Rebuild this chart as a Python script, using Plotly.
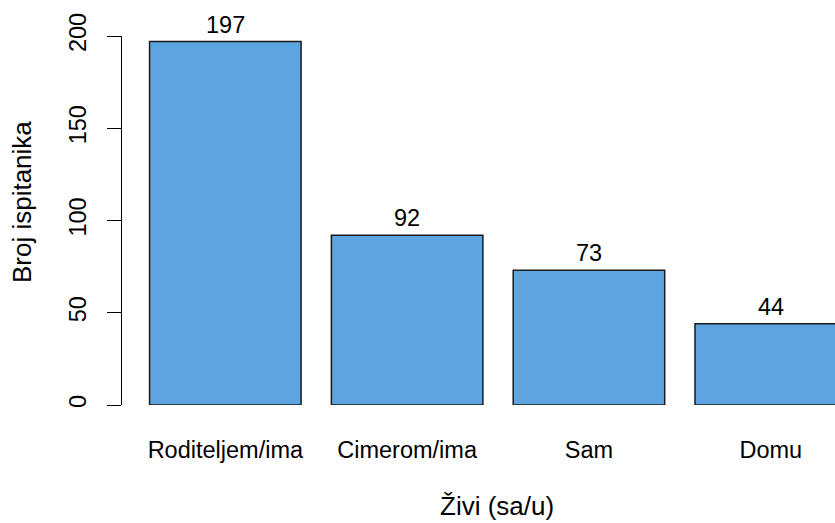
import plotly.graph_objects as go

categories = ["Roditeljem/ima", "Cimerom/ima", "Sam", "Domu"]
counts = [197, 92, 73, 44]
y_ticks = [0, 50, 100, 150, 200]

bar_width = 1.0
space = 0.2
centers = [space + bar_width / 2 + i * (bar_width + space) for i in range(len(categories))]

FONT = "Liberation Sans, Arial, sans-serif"
FS = 23.5
FS_TITLE = 26

fig = go.Figure()
fig.add_trace(go.Bar(
    x=centers, y=counts, width=bar_width,
    marker=dict(color="#5DA5E0", line=dict(color="#1a1a1a", width=1.5)),
    hoverinfo="skip",
))

for xc, v in zip(centers, counts):
    fig.add_annotation(x=xc, y=v, xref="x", yref="y", text=str(v),
                       showarrow=False, yanchor="bottom", yshift=2,
                       font=dict(family=FONT, size=FS, color="black"))

# axis titles (centred on the original, wider plotting region)
fig.add_annotation(text="Živi (sa/u)", xref="paper", yref="paper",
                   x=0.5266, y=0, xanchor="center", yanchor="middle",
                   yshift=-101, showarrow=False,
                   font=dict(family=FONT, size=FS_TITLE, color="black"))
fig.add_annotation(text="Broj ispitanika", xref="paper", yref="paper",
                   x=0, y=0.550, xanchor="center", yanchor="middle",
                   xshift=-100, textangle=-90, showarrow=False,
                   font=dict(family=FONT, size=FS_TITLE, color="black"))

fig.update_layout(
    width=835, height=523,
    margin=dict(l=122, r=0, t=36, b=118, pad=0),
    plot_bgcolor="white", paper_bgcolor="white",
    showlegend=False,
    font=dict(family=FONT, size=FS, color="black"),
    xaxis=dict(
        range=[0.018, 4.724], tickvals=centers, ticktext=categories,
        showline=False, showgrid=False, zeroline=False, ticks="",
        ticklabelstandoff=28, tickfont=dict(size=FS),
    ),
    yaxis=dict(
        range=[0, 200], tickvals=y_ticks, showline=True, linecolor="black",
        linewidth=1.3, ticks="outside", ticklen=14, tickwidth=1.3,
        tickcolor="black", tickangle=-90, showgrid=False, zeroline=False,
        ticklabelstandoff=11, tickfont=dict(size=FS),
    ),
)

fig.write_html(
    "out.html",
    config={"displayModeBar": False},
    post_script="document.body.style.margin='0px';document.body.style.overflow='hidden';",
)
